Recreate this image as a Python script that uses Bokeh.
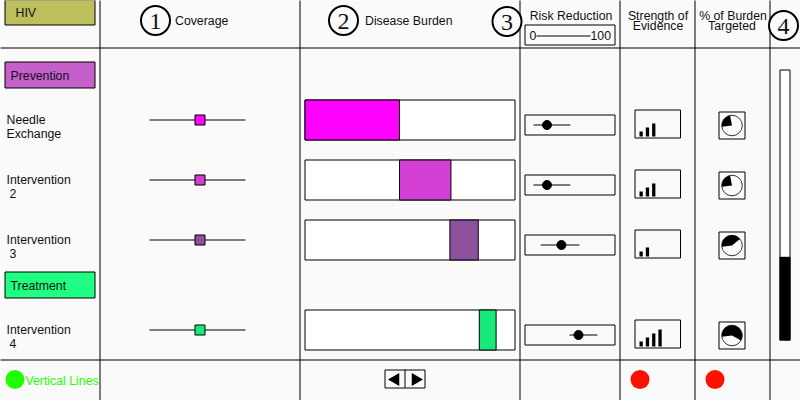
from bokeh.plotting import figure
from bokeh.models import Range1d
from bokeh.core.properties import value
from bokeh.embed import file_html
from bokeh.resources import INLINE

title = "HIV"
groups = ["Prevention", "Treatment"]
interventions = [["Needle", "Exchange"], ["Intervention", "2"], ["Intervention", "3"], ["Intervention", "4"]]
headers = ["Coverage", "Disease Burden", "Risk Reduction"]
coverage = [52.6, 52.6, 52.6, 52.6]
burden_start = [0, 45, 69, 83]
burden_width = [45, 24.5, 13.5, 8]
risk_low = [10, 10, 18, 50]
risk_mid = [25, 25, 41, 60]
risk_high = [51, 51, 61, 81]
evidence = [3, 3, 2, 4]
targeted = [24, 24, 41, 60]
total_targeted = 31
colors = ["#ff00ff", "#d23fd2", "#8e519e", "#17ea79"]

BG = "#fafafa"
FONT = value("Liberation Sans")
p = figure(width=800, height=400, x_range=Range1d(1, 801), y_range=Range1d(401, 1),
           output_backend="svg", toolbar_location=None, min_border=0,
           background_fill_color=BG, border_fill_color=BG, outline_line_color=None)
p.axis.visible = False
p.grid.visible = False

def label(x, y, s, size="12.3px", color="#111111", align="left", font=FONT):
    p.text([x], [y], text=[s], text_font=font, text_font_size=size, text_color=color,
           text_align=align, text_baseline="middle")

def box(l, t, r, b, fill=None, width=1.0):
    p.quad(left=[l], right=[r], top=[t], bottom=[b], fill_color=fill, fill_alpha=1 if fill else 0,
           line_color="black", line_width=width, line_join="miter")

# grid lines
for x in [100.5, 300.5, 520.5, 620.5, 695.5, 770.5]:
    p.segment([x], [0], [x], [402], line_color="black", line_width=1)
for y in [48.5, 360.5]:
    p.segment([0], [y], [802], [y], line_color="black", line_width=1)

# left column
box(5.5, 0.5, 95.5, 25.5, "#bdbf5c")
label(16, 13, title)
box(5.5, 62.5, 95.5, 88.5, "#c560cb")
label(11, 76.5, groups[0])
box(5.5, 272.5, 95.5, 298.5, "#1eff83")
label(11, 286.5, groups[1])

rows = [120, 180, 240, 330]
for i, yc in enumerate(rows):
    label(7, yc, interventions[i][0])
    label(10 if i else 7, yc + 14, interventions[i][1])
    # coverage
    p.segment([150], [yc + 0.5], [246], [yc + 0.5], line_color="black", line_width=1)
    cx = 150 + coverage[i] * 0.96
    p.quad(left=[cx - 5], right=[cx + 5], top=[yc - 4.5], bottom=[yc + 5.5],
           fill_color=colors[i], line_color="black", line_width=1, line_join="miter")
    # burden
    box(305.5, yc - 19.5, 515.5, yc + 20.5, "white")
    bx = 305.5 + burden_start[i] * 2.1
    box(bx, yc - 19.5, bx + burden_width[i] * 2.1, yc + 20.5, colors[i])
    # risk
    ry = yc + 5.5
    box(525.5, ry - 10, 615.5, ry + 10)
    p.segment([525 + risk_low[i] * 0.9], [ry], [525 + risk_high[i] * 0.9], [ry], line_color="black", line_width=1)
    p.circle([525 + risk_mid[i] * 0.9], [ry], radius=4.5, fill_color="black", line_color="black")
    # evidence
    ey = yc + 4
    box(635.5, ey - 13.5, 681, ey + 14.5)
    for k in range(evidence[i]):
        h = 5 + 4 * k
        p.quad(left=[640 + 6.3 * k], right=[643.3 + 6.3 * k], top=[ey + 13 - h], bottom=[ey + 13],
               fill_color="black", line_color=None)
    # targeted pie
    box(719.5, yc - 7.5, 745.5, yc + 19.5)
    py = yc + 6
    p.circle([732.5], [py], radius=10.3, fill_color=BG, line_color="#333333", line_width=1)
    p.wedge([732.5], [py], radius=10.3, start_angle=187 - targeted[i] * 3.6, end_angle=187,
            start_angle_units="deg", end_angle_units="deg", fill_color="black", line_color=None)

# headers
label(175.5, 21, headers[0])
label(365.5, 21, headers[1])
label(571.5, 16, headers[2], align="center")
box(525.5, 25.5, 615.5, 45.5)
label(530, 36, "0")
p.segment([537], [36.5], [591], [36.5], line_color="black", line_width=1)
label(591, 36, "100")
label(658.5, 16, "Strength of", align="center")
label(658.5, 26, "Evidence", align="center")
label(733.5, 16, "% of Burden", align="center")
label(732.5, 26, "Targeted", align="center")
for n, (x, y) in zip("1234", [(156, 21), (344, 21), (507.5, 22), (784, 26)]):
    p.circle([x], [y], radius=14.5, fill_color=BG, line_color="black", line_width=2)
    label(x, y + 1, n, size="24px", align="center", font=value("Liberation Serif"))

# vertical total bar
box(780.5, 70.5, 790.5, 340.5, "white")
tb = 341 - total_targeted * 2.7
p.quad(left=[780], right=[791], top=[tb], bottom=[341], fill_color="black", line_color=None)

# footer
p.circle([15.5], [380], radius=9.5, fill_color="#1fff00", line_color=None)
label(26, 381, "Vertical Lines", color="#1fff00")
for x in [640.5, 715.5]:
    p.circle([x], [380], radius=9.5, fill_color="#ff1000", line_color=None)
box(385.5, 370.5, 425.5, 388.5)
p.segment([405.5], [370], [405.5], [388], line_color="black", line_width=1)
p.scatter([396], [380], marker="triangle", size=13, angle=90, angle_units="deg", fill_color="black", line_color=None)
p.scatter([416], [380], marker="triangle", size=13, angle=-90, angle_units="deg", fill_color="black", line_color=None)

open("out.html", "w").write(file_html(p, INLINE))
